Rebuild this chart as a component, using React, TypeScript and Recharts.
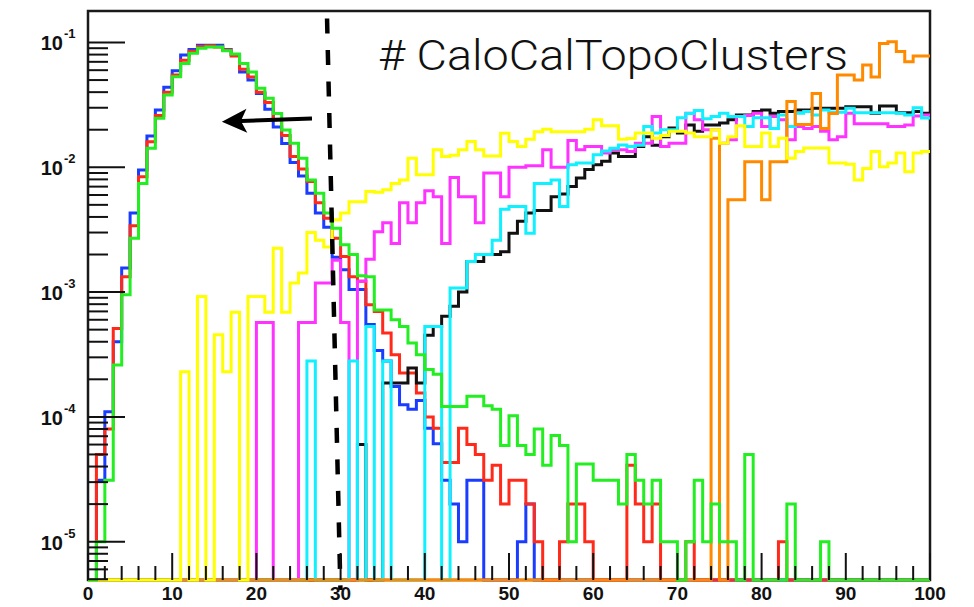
import React from "react"
import {
  ComposedChart,
  Line,
  XAxis,
  YAxis,
  ReferenceLine,
  ReferenceArea,
} from "recharts"

// Normalised cluster-multiplicity histograms, 100 unit-wide bins on [0, 100].
// Each array starts at its "first" bin; bins outside an array are empty.
const blueHist = [
  0, 3.1e-5, 1.1e-4, 4.0e-4, 1.56e-3, 4.3e-3, 9.5e-3, 0.0178, 0.0288, 0.0438,
  0.0594, 0.0794, 0.088, 0.095, 0.095, 0.095, 0.088, 0.08, 0.058, 0.05,
  0.039, 0.0292, 0.021, 0.0155, 0.0109, 0.0085, 0.0062, 0.0043, 3.3e-3, 1.9e-3,
  1.51e-3, 1.05e-3, 1.05e-3, 5.5e-4, 3.4e-4, 2.8e-4, 1.75e-4, 1.25e-4, 1.15e-4, 1.35e-4,
  8.1e-5, 6.1e-5, 3.1e-5, 2.0e-5, 1.0e-5, 3.1e-5, 3.1e-5, 0, 0, 0,
  0, 1.0e-5, 2.0e-5,
]

const redHist = [
  0, 5.0e-5, 8.0e-5, 5.1e-4, 1.33e-3, 3.4e-3, 8.4e-3, 0.016, 0.026, 0.04,
  0.055, 0.072, 0.085, 0.093, 0.094, 0.092, 0.087, 0.078, 0.061, 0.053,
  0.04, 0.033, 0.024, 0.018, 0.0122, 0.0097, 0.0077, 0.0052, 3.9e-3, 2.7e-3,
  1.93e-3, 1.33e-3, 1.22e-3, 7.9e-4, 7.0e-4, 4.7e-4, 3.15e-4, 2.25e-4, 2.25e-4, 1.55e-4,
  1.0e-4, 8.1e-5, 4.3e-5, 4.3e-5, 8.1e-5, 6.0e-5, 5.0e-5, 3.1e-5, 4.1e-5, 2.0e-5,
  3.1e-5, 3.1e-5, 2.0e-5, 1.0e-5, 0, 0, 1.0e-5, 2.0e-5, 2.0e-5, 1.0e-5,
  0, 0, 0, 0, 4.1e-5, 2.0e-5, 1.0e-5, 2.0e-5, 0, 0,
  0, 1.0e-5, 0, 0, 0, 0, 0, 0, 0, 0,
  0, 0, 1.0e-5,
]

const greenHist = [
  0, 1.0e-5, 3.1e-5, 2.6e-4, 9.5e-4, 2.7e-3, 7.4e-3, 0.0142, 0.0247, 0.038,
  0.0532, 0.068, 0.082, 0.09, 0.092, 0.092, 0.086, 0.081, 0.068, 0.058,
  0.043, 0.0357, 0.027, 0.0199, 0.0156, 0.0118, 0.0079, 0.0062, 4.3e-3, 3.25e-3,
  2.4e-3, 2.0e-3, 1.35e-3, 1.33e-3, 7.2e-4, 7.2e-4, 6.0e-4, 5.3e-4, 3.9e-4, 3.15e-4,
  2.4e-4, 2.2e-4, 1.21e-4, 1.21e-4, 1.21e-4, 1.46e-4, 1.46e-4, 1.23e-4, 1.15e-4, 5.9e-5,
  1.02e-4, 5.9e-5, 5.0e-5, 8.0e-5, 4.1e-5, 7.1e-5, 5.9e-5, 1.0e-5, 4.2e-5, 4.2e-5,
  3.1e-5, 3.1e-5, 3.1e-5, 2.0e-5, 5.0e-5, 3.1e-5, 2.0e-5, 3.1e-5, 1.0e-5, 1.0e-5,
  0, 1.0e-5, 3.1e-5, 1.0e-5, 2.0e-5, 1.0e-5, 1.0e-5, 0, 5.0e-5, 0,
  0, 0, 0, 2.0e-5, 0, 0, 0, 1.0e-5,
]

// starts at bin 11
const yellowHist = [
  2.3e-4, 0, 9.2e-4, 0, 4.55e-4, 2.3e-4, 6.9e-4, 0, 9.2e-4,
  9.2e-4, 6.9e-4, 2.25e-3, 6.9e-4, 1.18e-3, 1.42e-3, 3.0e-3, 2.6e-3, 2.3e-3, 3.8e-3,
  4.3e-3, 5.3e-3, 5.3e-3, 6.4e-3, 6.3e-3, 6.6e-3, 7.4e-3, 7.9e-3, 0.0118, 8.7e-3,
  8.7e-3, 0.0138, 0.0122, 0.0125, 0.0138, 0.0161, 0.0138, 0.0123, 0.0123, 0.0187,
  0.0161, 0.0147, 0.0168, 0.0193, 0.0202, 0.0193, 0.0193, 0.0193, 0.0193, 0.0202,
  0.024, 0.0215, 0.0215, 0.0168, 0.017, 0.0188, 0.0188, 0.0171, 0.018, 0.0194,
  0.0194, 0.0188, 0.0176, 0.0176, 0.02, 0.0156, 0.0176, 0.0215, 0.0147, 0.0147,
  0.0188, 0.0147, 0.0171, 0.0118, 0.0134, 0.0143, 0.0143, 0.0143, 0.0108, 0.0108,
  0.0106, 0.0079, 0.0098, 0.0134, 0.0101, 0.0108, 0.013, 0.0092, 0.013, 0.0134,
]

// starts at bin 20
const magentaHist = [
  5.7e-4, 5.7e-4, 0, 0, 0, 5.7e-4, 5.7e-4, 1.18e-3, 1.18e-3, 1.8e-3,
  5.7e-4, 0, 1.22e-3, 1.83e-3, 3.05e-3, 3.6e-3, 2.45e-3, 5.2e-3, 3.6e-3, 5.2e-3,
  6.5e-3, 5.8e-3, 2.45e-3, 8.3e-3, 5.8e-3, 5.8e-3, 3.6e-3, 9.0e-3, 9.0e-3, 5.8e-3,
  0.01, 0.01, 0.0103, 0.0103, 0.0138, 0.01, 0.01, 0.0164, 0.0138, 0.0147,
  0.0147, 0.013, 0.0138, 0.0138, 0.0134, 0.0156, 0.0156, 0.0255, 0.0147, 0.0156,
  0.0156, 0.0271, 0.024, 0.02, 0.02, 0.0156, 0.0166, 0.0255, 0.026, 0.0271,
  0.0212, 0.0255, 0.024, 0.0166, 0.0212, 0.0205, 0.0212, 0.0194, 0.0166, 0.0176,
  0.0271, 0.0223, 0.0223, 0.0223, 0.0223, 0.0212, 0.0212, 0.0218, 0.0258, 0.0262,
]

// starts at bin 26
const cyanHist = [
  2.8e-4, 0, 0, 0, 0, 2.8e-4, 0, 5.3e-4, 0, 2.8e-4, 0, 0, 0, 0,
  5.3e-4, 5.3e-4, 0, 1.08e-3, 1.08e-3, 1.76e-3, 2.0e-3, 2.0e-3, 2.6e-3, 4.6e-3,
  4.85e-3, 4.85e-3, 2.96e-3, 7.4e-3, 7.4e-3, 7.9e-3, 4.85e-3, 0.0105, 0.0108, 0.0108,
  0.0126, 0.0135, 0.0142, 0.0151, 0.0147, 0.015, 0.0212, 0.0188, 0.02, 0.02,
  0.025, 0.027, 0.0285, 0.0245, 0.0255, 0.0271, 0.0255, 0.0255, 0.0212, 0.025,
  0.025, 0.0205, 0.0263, 0.0212, 0.0271, 0.028, 0.0263, 0.0288, 0.0276, 0.0276,
  0.0297, 0.0274, 0.0274, 0.0274, 0.0274, 0.0274, 0.0271, 0.0263, 0.03, 0.0248,
]

// starts at bin 32
const blackHist = [
  6.0e-5, 0, 0, 1.87e-4, 1.87e-4, 1.87e-4, 2.46e-4, 1.87e-4,
  4.5e-4, 5.3e-4, 6.4e-4, 7.7e-4, 1.0e-3, 1.76e-3, 1.76e-3, 2.0e-3, 2.0e-3, 2.1e-3,
  2.96e-3, 3.7e-3, 4.3e-3, 4.5e-3, 4.5e-3, 5.8e-3, 6.1e-3, 7.0e-3, 8.2e-3, 9.6e-3,
  0.0105, 0.0112, 0.013, 0.0122, 0.0122, 0.0147, 0.0176, 0.015, 0.0176, 0.0206,
  0.0188, 0.0218, 0.0194, 0.0218, 0.0218, 0.0226, 0.024, 0.0263, 0.0263, 0.028,
  0.0288, 0.0271, 0.028, 0.028, 0.0288, 0.0288, 0.0297, 0.0297, 0.0297, 0.0297,
  0.0306, 0.0306, 0.0306, 0.0271, 0.031, 0.031, 0.0274, 0.0274, 0.028, 0.0271,
]

// starts at bin 74
const orangeHist = [
  0.0171, 0, 5.5e-3, 5.5e-3, 0.0111, 0.0111, 5.5e-3, 0.0111, 0.0111, 0.0336,
  0.022, 0.022, 0.039, 0.0205, 0.027, 0.055, 0.055, 0.05, 0.066, 0.053,
  0.098, 0.1015, 0.0845, 0.07, 0.078, 0.078,
]

// drawing order: later entries are painted on top
const histograms = [
  { key: "blue", color: "#1a3cff", first: 0, values: blueHist },
  { key: "red", color: "#ff2a1a", first: 0, values: redHist },
  { key: "black", color: "#111111", first: 32, values: blackHist },
  { key: "magenta", color: "#ff33ff", first: 20, values: magentaHist },
  { key: "cyan", color: "#10f0ff", first: 26, values: cyanHist },
  { key: "orange", color: "#ff8a00", first: 74, values: orangeHist },
  { key: "yellow", color: "#ffff00", first: 11, values: yellowHist },
  { key: "green", color: "#22ee22", first: 0, values: greenHist },
]

const N_BINS = 100
const Y_MIN = 4.93e-6
const Y_MAX = 0.1788

const xLabelTicks = [0, 10, 20, 30, 40, 50, 60, 70, 80, 90, 100]
const xTicks = Array.from({ length: 51 }, (_, i) => i * 2)
const yDecades = [1e-6, 1e-5, 1e-4, 1e-3, 1e-2, 1e-1]
const yMantissas = [1, 2, 3, 4, 5, 6, 7, 8, 9]
const yTicks = yDecades
  .flatMap((d) => yMantissas.map((m) => m * d))
  .filter((v) => v >= Y_MIN && v <= Y_MAX)

const cutLine = [{ x: 28.37, y: Y_MAX }, { x: 29.98, y: 4.1e-6 }]
const arrow = [{ x: 26.6, y: 0.0246 }, { x: 15.9, y: 0.0232 }]
const title = "# CaloCalTopoClusters"

// one row per bin low edge, plus a closing point at x = 100
const rows = Array.from({ length: N_BINS + 1 }, (_, i) => {
  const bin = Math.min(i, N_BINS - 1)
  const row: Record<string, number> = { x: i }
  histograms.forEach((h) => {
    const v = h.values[bin - h.first]
    row[h.key] = v && v > 0 ? v : Y_MIN
  })
  return row
})

const AXIS_FONT = "'Liberation Sans', Arial, Helvetica, sans-serif"

const YTick = (props: any) => {
  const { x, y, payload } = props
  const e = Math.log10(payload.value)
  const major = Math.abs(e - Math.round(e)) < 1e-6
  return (
    <g>
      <line x1={x} x2={x + (major ? 37 : 20)} y1={y} y2={y} stroke="#111" strokeWidth={2} />
      {major && (
        <text x={x - 25} y={y + 8} textAnchor="end" fontFamily={AXIS_FONT} fontWeight="bold" fontSize={20} fill="#111">
          10
        </text>
      )}
      {major && (
        <text x={x - 24} y={y - 4} textAnchor="start" fontFamily={AXIS_FONT} fontWeight="bold" fontSize={13} fill="#111">
          {`-${-Math.round(e)}`}
        </text>
      )}
    </g>
  )
}

const XTick = (props: any) => {
  const { x, y, payload } = props
  const major = xLabelTicks.includes(payload.value)
  return (
    <g>
      <line x1={x} x2={x} y1={y} y2={y - (major ? 27 : 14)} stroke="#111" strokeWidth={2} />
      {major && (
        <text x={x} y={y + 20} textAnchor="middle" fontFamily={AXIS_FONT} fontWeight="bold" fontSize={19} fill="#111">
          {payload.value}
        </text>
      )}
    </g>
  )
}

const ArrowShape = (props: any) => {
  const { x1, y1, x2, y2 } = props
  const dx = x2 - x1
  const dy = y2 - y1
  const len = Math.hypot(dx, dy) || 1
  const ux = dx / len
  const uy = dy / len
  const headLen = 25
  const half = 12
  const notch = 6
  const bx = x2 - ux * headLen
  const by = y2 - uy * headLen
  const nx = x2 - ux * (headLen - notch)
  const ny = y2 - uy * (headLen - notch)
  return (
    <g>
      <line x1={x1} y1={y1} x2={nx} y2={ny} stroke="#000" strokeWidth={4} />
      <path
        d={`M${x2},${y2} L${bx - uy * half},${by + ux * half} L${nx},${ny} L${bx + uy * half},${by - ux * half} Z`}
        fill="#000"
      />
    </g>
  )
}

export default function App() {
  return (
    <div style={{ position: "absolute", left: 0, top: 0, width: 974, height: 607, background: "#fff" }}>
      <ComposedChart width={974} height={607} data={rows} margin={{ top: 11, right: 44, bottom: 0, left: 0 }}>
        <XAxis
          type="number"
          dataKey="x"
          domain={[0, 100]}
          ticks={xTicks}
          interval={0}
          height={27}
          tickSize={0}
          tickMargin={0}
          axisLine={false}
          tickLine={false}
          tick={XTick}
        />
        <YAxis
          type="number"
          scale="log"
          domain={[Y_MIN, Y_MAX]}
          ticks={yTicks}
          interval={0}
          width={88}
          tickSize={0}
          tickMargin={0}
          axisLine={false}
          tickLine={false}
          tick={YTick}
        />
        <ReferenceArea
          x1={0}
          x2={100}
          y1={Y_MIN}
          y2={Y_MAX}
          fill="none"
          stroke="#1a1a1a"
          strokeWidth={2.5}
          ifOverflow="visible"
        />
        {histograms.map((h) => (
          <Line
            key={h.key}
            type="stepAfter"
            dataKey={h.key}
            stroke={h.color}
            strokeWidth={3}
            dot={false}
            activeDot={false}
            isAnimationActive={false}
          />
        ))}
        <ReferenceLine
          segment={cutLine}
          stroke="#000"
          strokeWidth={4.5}
          strokeDasharray="15 16.5"
          strokeDashoffset={24}
          ifOverflow="visible"
        />
        <ReferenceLine segment={arrow} shape={ArrowShape} ifOverflow="visible" />
        <text
          x={378}
          y={70}
          fontFamily="Roboto, 'Helvetica Neue', 'Liberation Sans', sans-serif"
          fontWeight={300}
          fontSize={43}
          fill="#111"
          textLength={470}
          lengthAdjust="spacingAndGlyphs"
        >
          {title}
        </text>
      </ComposedChart>
    </div>
  )
}
